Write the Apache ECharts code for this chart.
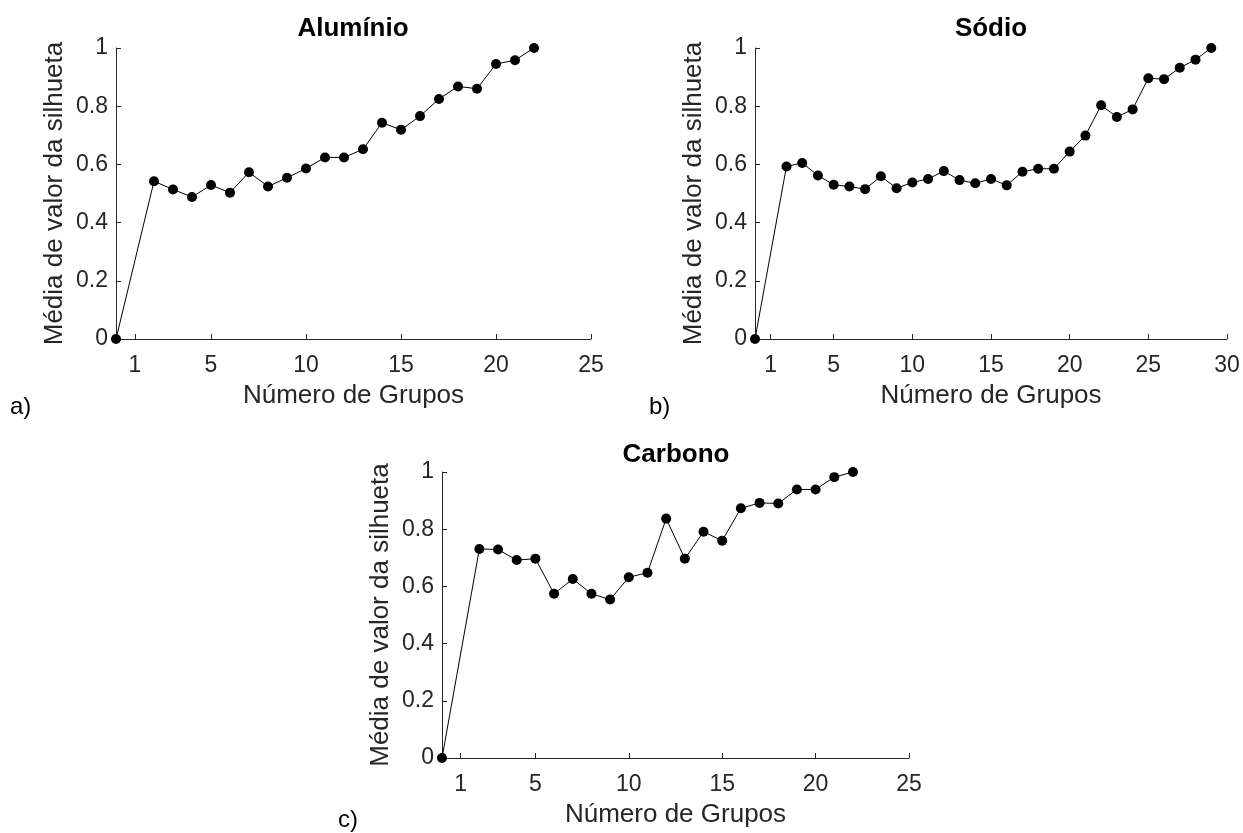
<!DOCTYPE html>
<html>
<head>
<meta charset="utf-8">
<script src="https://cdn.jsdelivr.net/npm/echarts@6/dist/echarts.min.js"></script>
<style>
  html, body { margin: 0; background: #fff; }
  #main { width: 1243px; height: 833px; }
</style>
</head>
<body>
<div id="main"></div>
<script>
// ---- data ----
var aluminioX = [0, 2, 3, 4, 5, 6, 7, 8, 9, 10, 11, 12, 13, 14, 15, 16, 17, 18, 19, 20, 21, 22];
var aluminioY = [0, 0.542, 0.514, 0.488, 0.529, 0.503, 0.573, 0.524, 0.554, 0.586, 0.624, 0.624,
  0.652, 0.743, 0.719, 0.766, 0.825, 0.868, 0.860, 0.945, 0.958, 1.0];

var sodioX = [0, 2, 3, 4, 5, 6, 7, 8, 9, 10, 11, 12, 13, 14, 15, 16, 17, 18, 19, 20, 21, 22, 23, 24, 25, 26, 27, 28, 29];
var sodioY = [0, 0.593, 0.605, 0.562, 0.530, 0.524, 0.515, 0.559, 0.518, 0.538, 0.550, 0.577,
  0.546, 0.535, 0.550, 0.528, 0.575, 0.585, 0.585, 0.644, 0.699, 0.803, 0.763, 0.789,
  0.896, 0.893, 0.932, 0.960, 1.0];

var carbonoX = [0, 2, 3, 4, 5, 6, 7, 8, 9, 10, 11, 12, 13, 14, 15, 16, 17, 18, 19, 20, 21, 22];
var carbonoY = [0, 0.731, 0.729, 0.692, 0.697, 0.574, 0.626, 0.574, 0.554, 0.632, 0.648, 0.837,
  0.697, 0.791, 0.760, 0.873, 0.892, 0.890, 0.939, 0.939, 0.982, 1.0];

var xTicks25 = [1, 5, 10, 15, 20, 25];
var xTicks30 = [1, 5, 10, 15, 20, 25, 30];

var titles = ["Alumínio", "Sódio", "Carbono"];
var xName = "Número de Grupos";
var yName = "Média de valor da silhueta";

// ---- style ----
var FONT = "'Liberation Sans', Arial, sans-serif";
var AX = "#262626";

function pairs(xs, ys) {
  return xs.map(function (x, i) { return [x, ys[i]]; });
}

function makeX(idx, max, ticks) {
  return {
    gridIndex: idx,
    type: "value",
    min: 0,
    max: max,
    name: xName,
    nameLocation: "middle",
    nameGap: 44,
    nameTextStyle: { fontSize: 26, color: AX, fontFamily: FONT },
    axisLine: { show: true, onZero: false, lineStyle: { color: AX, width: 1 } },
    axisTick: { show: true, inside: true, length: 5, customValues: ticks, lineStyle: { color: AX } },
    axisLabel: { customValues: ticks, fontSize: 23, color: AX, fontFamily: FONT, margin: 15 },
    splitLine: { show: false },
  };
}

function makeY(idx) {
  return {
    gridIndex: idx,
    type: "value",
    min: 0,
    max: 1,
    interval: 0.2,
    name: yName,
    nameLocation: "middle",
    nameGap: 48,
    nameTextStyle: { fontSize: 26, color: AX, fontFamily: FONT },
    axisLine: { show: true, lineStyle: { color: AX, width: 1 } },
    axisTick: { show: true, inside: true, length: 5, lineStyle: { color: AX } },
    axisLabel: { fontSize: 23, color: AX, fontFamily: FONT, margin: 8 },
    splitLine: { show: false },
  };
}

function makeSeries(idx, data) {
  return {
    type: "line",
    xAxisIndex: idx,
    yAxisIndex: idx,
    data: data,
    symbol: "circle",
    symbolSize: 10,
    clip: false,
    itemStyle: { color: "#000" },
    lineStyle: { color: "#000", width: 1 },
  };
}

function label(txt, x, y, bold) {
  return {
    type: "text",
    x: x,
    y: y,
    style: {
      text: txt,
      fill: "#000",
      font: (bold ? "bold 26px " : "24px ") + FONT,
      textAlign: bold ? "center" : "left",
      textVerticalAlign: "middle",
    },
  };
}

var option = {
  animation: false,
  backgroundColor: "#fff",
  grid: [
    { left: 116, top: 48, width: 475, height: 291 },
    { left: 755, top: 48, width: 472, height: 291 },
    { left: 442, top: 472, width: 467, height: 286 },
  ],
  xAxis: [makeX(0, 25, xTicks25), makeX(1, 30, xTicks30), makeX(2, 25, xTicks25)],
  yAxis: [makeY(0), makeY(1), makeY(2)],
  series: [
    makeSeries(0, pairs(aluminioX, aluminioY)),
    makeSeries(1, pairs(sodioX, sodioY)),
    makeSeries(2, pairs(carbonoX, carbonoY)),
  ],
  graphic: [
    label(titles[0], 353, 29, true),
    label(titles[1], 991, 29, true),
    label(titles[2], 676, 455, true),
    label("a)", 10, 407, false),
    label("b)", 649, 407, false),
    label("c)", 338, 820, false),
  ],
};

var myChart = echarts.init(document.getElementById("main"));
myChart.setOption(option);
</script>
</body>
</html>
